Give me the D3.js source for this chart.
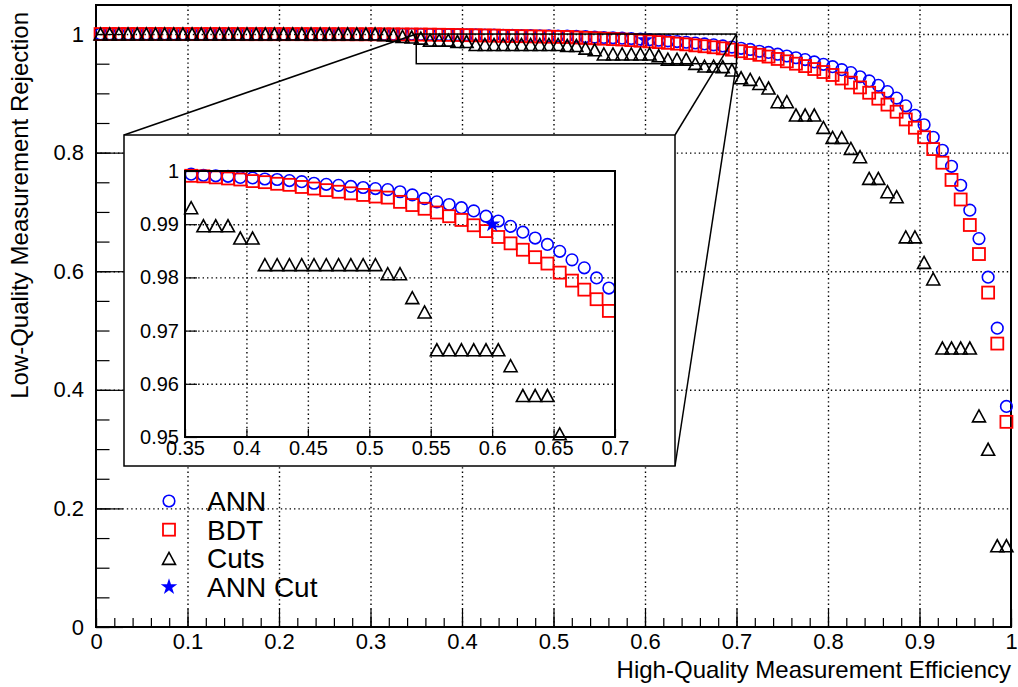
<!DOCTYPE html>
<html>
<head>
<meta charset="utf-8">
<script src="https://cdn.jsdelivr.net/npm/d3@7"></script>
<style>
body { margin: 0; background: #fff; }
text { font-family: "Liberation Sans", Arial, Helvetica, sans-serif; fill: #000; }
</style>
</head>
<body>
<svg id="chart" width="1018" height="687"></svg>
<script>
// efficiency bin centres (x) and rejection (y)
var effX = [0.005,0.015,0.025,0.035,0.045,0.055,0.065,0.075,0.085,0.095,
            0.105,0.115,0.125,0.135,0.145,0.155,0.165,0.175,0.185,0.195,
            0.205,0.215,0.225,0.235,0.245,0.255,0.265,0.275,0.285,0.295,
            0.305,0.315,0.325,0.335,0.345,0.355,0.365,0.375,0.385,0.395,
            0.405,0.415,0.425,0.435,0.445,0.455,0.465,0.475,0.485,0.495,
            0.505,0.515,0.525,0.535,0.545,0.555,0.565,0.575,0.585,0.595,
            0.605,0.615,0.625,0.635,0.645,0.655,0.665,0.675,0.685,0.695,
            0.705,0.715,0.725,0.735,0.745,0.755,0.765,0.775,0.785,0.795,
            0.805,0.815,0.825,0.835,0.845,0.855,0.865,0.875,0.885,0.895,
            0.905,0.915,0.925,0.935,0.945,0.955,0.965,0.975,0.985,0.995];

var annRej = [1.0000,1.0000,1.0000,1.0000,1.0000,1.0000,1.0000,1.0000,1.0000,1.0000,
              0.9999,0.9999,0.9999,0.9999,0.9999,0.9999,0.9999,0.9999,0.9999,0.9999,
              0.9998,0.9998,0.9998,0.9998,0.9998,0.9998,0.9998,0.9998,0.9997,0.9997,
              0.9997,0.9997,0.9996,0.9996,0.9996,0.9994,0.9992,0.9991,0.9990,0.9988,
              0.9987,0.9985,0.9984,0.9982,0.9980,0.9977,0.9975,0.9973,0.9971,0.9969,
              0.9967,0.9965,0.9961,0.9955,0.9948,0.9942,0.9937,0.9931,0.9925,0.9915,
              0.9906,0.9896,0.9885,0.9874,0.9862,0.9849,0.9833,0.9818,0.9799,0.9780,
              0.976,0.974,0.971,0.969,0.966,0.963,0.960,0.957,0.953,0.949,
              0.945,0.940,0.935,0.928,0.921,0.9135,0.903,0.892,0.879,0.863,
              0.847,0.826,0.804,0.777,0.745,0.703,0.655,0.590,0.504,0.372];

var bdtRej = [1.0000,1.0000,1.0000,1.0000,1.0000,1.0000,1.0000,1.0000,0.9999,0.9999,
              0.9999,0.9999,0.9999,0.9999,0.9999,0.9999,0.9998,0.9998,0.9998,0.9998,
              0.9998,0.9998,0.9998,0.9997,0.9997,0.9997,0.9997,0.9997,0.9996,0.9996,
              0.9996,0.9995,0.9995,0.9993,0.9992,0.9991,0.9990,0.9988,0.9986,0.9984,
              0.9981,0.9979,0.9976,0.9974,0.9970,0.9967,0.9964,0.9961,0.9958,0.9955,
              0.9952,0.9950,0.9942,0.9936,0.9929,0.9922,0.9915,0.9908,0.9898,0.9887,
              0.9876,0.9864,0.9852,0.9838,0.9826,0.9809,0.9794,0.9777,0.9759,0.9737,
              0.971,0.968,0.965,0.962,0.958,0.954,0.950,0.946,0.941,0.936,
              0.931,0.925,0.918,0.910,0.901,0.891,0.881,0.869,0.856,0.842,
              0.826,0.806,0.783,0.754,0.721,0.678,0.629,0.564,0.478,0.346];

var cutsRej = [1.0,1.0,1.0,1.0,1.0,1.0,1.0,1.0,1.0,1.0,
               1.0,1.0,1.0,1.0,1.0,1.0,1.0,1.0,1.0,1.0,
               1.0,1.0,1.0,1.0,1.0,1.0,1.0,1.0,1.0,1.0,
               1.0,0.999,0.998,0.996,0.995,0.9931,0.9897,0.9897,0.9897,0.9874,
               0.9874,0.9824,0.9824,0.9824,0.9824,0.9824,0.9824,0.9824,0.9824,0.9824,
               0.9824,0.9807,0.9807,0.9762,0.9735,0.9664,0.9664,0.9664,0.9664,0.9664,
               0.9664,0.9634,0.9578,0.9578,0.9578,0.9506,0.946,0.946,0.945,0.9393,
               0.9263,0.9235,0.9167,0.909,0.8859,0.8859,0.8634,0.8634,0.8634,0.8426,
               0.8258,0.8258,0.8072,0.7931,0.7566,0.7566,0.7341,0.7257,0.658,0.658,
               0.615,0.587,0.4705,0.4705,0.4705,0.4705,0.356,0.2997,0.137,0.137];

var annCutX = [0.6];
var annCutY = [0.990];

var mainXTicks = [0,0.1,0.2,0.3,0.4,0.5,0.6,0.7,0.8,0.9,1];
var mainXLabels = ["0","0.1","0.2","0.3","0.4","0.5","0.6","0.7","0.8","0.9","1"];
var mainYTicks = [0,0.2,0.4,0.6,0.8,1];
var mainYLabels = ["0","0.2","0.4","0.6","0.8","1"];
var insetXTicks = [0.35,0.4,0.45,0.5,0.55,0.6,0.65,0.7];
var insetXLabels = ["0.35","0.4","0.45","0.5","0.55","0.6","0.65","0.7"];
var insetYTicks = [0.95,0.96,0.97,0.98,0.99,1];
var insetYLabels = ["0.95","0.96","0.97","0.98","0.99","1"];
var legendNames = ["ANN","BDT","Cuts","ANN Cut"];

var svg = d3.select("#chart");
svg.append("rect").attr("width",1018).attr("height",687).attr("fill","#fff");

// marker shapes, roughly ROOT styles 24 / 25 / 26 / 29
function drawMarkers(g, xs, ys, sx, sy, shape, color) {
    var pts = xs.map(function(d,i){ return [d, ys[i]]; }).filter(function(p){
        var dx = sx.domain(), dy = sy.domain();
        return p[0] >= dx[0] && p[0] <= dx[1] && p[1] >= dy[0] && p[1] <= dy[1];
    });
    var sel = g.selectAll(null).data(pts).enter();
    if (shape === "circle") {
        sel.append("circle").attr("cx", p => sx(p[0])).attr("cy", p => sy(p[1]))
            .attr("r", 5.8).attr("fill","none").attr("stroke",color).attr("stroke-width",1.6);
    } else if (shape === "square") {
        sel.append("rect").attr("x", p => sx(p[0]) - 6).attr("y", p => sy(p[1]) - 6)
            .attr("width",12).attr("height",12).attr("fill","none").attr("stroke",color).attr("stroke-width",1.8);
    } else if (shape === "triangle") {
        sel.append("path").attr("transform", p => "translate(" + sx(p[0]) + "," + sy(p[1]) + ")")
            .attr("d","M-6.5,6L6.5,6L0,-6Z").attr("fill","none").attr("stroke",color).attr("stroke-width",1.6);
    } else {
        sel.append("path").attr("transform", p => "translate(" + sx(p[0]) + "," + sy(p[1]) + ")")
            .attr("d", d3.symbol(d3.symbolStar, 85)()).attr("fill",color);
    }
}

function styleAxis(g) {
    g.select(".domain").remove();
    g.selectAll(".tick line").attr("stroke","#000").attr("stroke-width",1.2);
}

// ---------- main pad ----------
var x = d3.scaleLinear().domain([0,1]).range([96,1011]);
var y = d3.scaleLinear().domain([0,1.049]).range([627,5]);
var main = svg.append("g");

// grid
main.append("g").attr("transform","translate(0,627)")
    .call(d3.axisBottom(x).tickValues(mainXTicks.slice(1,-1)).tickSize(-622).tickFormat(""))
    .call(styleAxis)
    .selectAll(".tick line").attr("stroke-dasharray","1.4,3").attr("stroke-width",1.4);
main.append("g").attr("transform","translate(96,0)")
    .call(d3.axisLeft(y).tickValues(mainYTicks.slice(1)).tickSize(-915).tickFormat(""))
    .call(styleAxis)
    .selectAll(".tick line").attr("stroke-dasharray","1.4,3").attr("stroke-width",1.4);

// ticks
main.append("g").attr("transform","translate(0,627)")
    .call(d3.axisBottom(x).ticks(50).tickSize(-9).tickFormat(""))
    .call(styleAxis);
main.append("g").attr("transform","translate(0,627)")
    .call(d3.axisBottom(x).tickValues(mainXTicks).tickSize(-18).tickPadding(6)
        .tickFormat((d,i) => mainXLabels[i]))
    .call(styleAxis)
    .selectAll("text").attr("font-size",22);
main.append("g").attr("transform","translate(96,0)")
    .call(d3.axisLeft(y).tickValues(d3.range(0,1.001,0.05)).tickSize(-13.5).tickFormat(""))
    .call(styleAxis);
main.append("g").attr("transform","translate(96,0)")
    .call(d3.axisLeft(y).tickValues(mainYTicks).tickSize(-27).tickPadding(12)
        .tickFormat((d,i) => mainYLabels[i]))
    .call(styleAxis)
    .selectAll("text").attr("font-size",22);

main.append("rect").attr("x",96).attr("y",5).attr("width",915).attr("height",622)
    .attr("fill","none").attr("stroke","#000").attr("stroke-width",2);

main.append("text").attr("x",1011).attr("y",678).attr("text-anchor","end")
    .attr("font-size",24).text("High-Quality Measurement Efficiency");
main.append("text").attr("transform","translate(28,12) rotate(-90)").attr("text-anchor","end")
    .attr("font-size",24).text("Low-Quality Measurement Rejection");

// star sits under the other markers in the main pad
drawMarkers(main, annCutX, annCutY, x, y, "star", "#0000ff");
drawMarkers(main, effX, annRej, x, y, "circle", "#0000ff");
drawMarkers(main, effX, bdtRej, x, y, "square", "#ff0000");
drawMarkers(main, effX, cutsRej, x, y, "triangle", "#000");

// zoom box and connector lines
main.append("rect").attr("x",x(0.35)).attr("y",y(1)).attr("width",x(0.7)-x(0.35)).attr("height",y(0.95)-y(1))
    .attr("fill","none").attr("stroke","#000").attr("stroke-width",1.5);
var links = [[124,135,0.35,1],[675,135,0.7,1],[675,466,0.7,0.95]];
main.selectAll(null).data(links).enter().append("line")
    .attr("x1", d => d[0]).attr("y1", d => d[1]).attr("x2", d => x(d[2])).attr("y2", d => y(d[3]))
    .attr("stroke","#000").attr("stroke-width",1.5);

// legend
var legShapes = ["circle","square","triangle","star"];
var legColors = ["#0000ff","#ff0000","#000","#0000ff"];
var legY = d3.scaleLinear().domain([0,3]).range([501,587]);
legendNames.forEach(function(name, i) {
    var lg = main.append("g");
    var ly = d3.scaleLinear().domain([0,1]).range([legY(i), legY(i) - 1]);
    var lx = d3.scaleLinear().domain([0,1]).range([169, 170]);
    drawMarkers(lg, [0], [0], lx, ly, legShapes[i], legColors[i]);
    lg.append("text").attr("x",207).attr("y",legY(i)).attr("dy","0.36em")
        .attr("font-size",28).text(name);
});

// ---------- inset pad ----------
var inset = svg.append("g");
inset.append("rect").attr("x",124).attr("y",135).attr("width",551).attr("height",331)
    .attr("fill","#fff").attr("stroke","#000").attr("stroke-width",1.5);
var xi = d3.scaleLinear().domain([0.35,0.7]).range([185,615]);
var yi = d3.scaleLinear().domain([0.95,1]).range([437,171]);

inset.append("g").attr("transform","translate(0,437)")
    .call(d3.axisBottom(xi).tickValues(insetXTicks.slice(1,-1)).tickSize(-266).tickFormat(""))
    .call(styleAxis)
    .selectAll(".tick line").attr("stroke-dasharray","1.4,3").attr("stroke-width",1.4);
inset.append("g").attr("transform","translate(185,0)")
    .call(d3.axisLeft(yi).tickValues(insetYTicks.slice(1,-1)).tickSize(-430).tickFormat(""))
    .call(styleAxis)
    .selectAll(".tick line").attr("stroke-dasharray","1.4,3").attr("stroke-width",1.4);

inset.append("g").attr("transform","translate(0,437)")
    .call(d3.axisBottom(xi).tickValues(insetXTicks).tickSize(-8).tickPadding(4)
        .tickFormat((d,i) => insetXLabels[i]))
    .call(styleAxis)
    .selectAll("text").attr("font-size",20);
inset.append("g").attr("transform","translate(185,0)")
    .call(d3.axisLeft(yi).tickValues(insetYTicks).tickSize(-12).tickPadding(6)
        .tickFormat((d,i) => insetYLabels[i]))
    .call(styleAxis)
    .selectAll("text").attr("font-size",20);

drawMarkers(inset, effX, annRej, xi, yi, "circle", "#0000ff");
drawMarkers(inset, effX, bdtRej, xi, yi, "square", "#ff0000");
drawMarkers(inset, effX, cutsRej, xi, yi, "triangle", "#000");
drawMarkers(inset, annCutX, annCutY, xi, yi, "star", "#0000ff");

inset.append("rect").attr("x",185).attr("y",171).attr("width",430).attr("height",266)
    .attr("fill","none").attr("stroke","#000").attr("stroke-width",2);
</script>
</body>
</html>
